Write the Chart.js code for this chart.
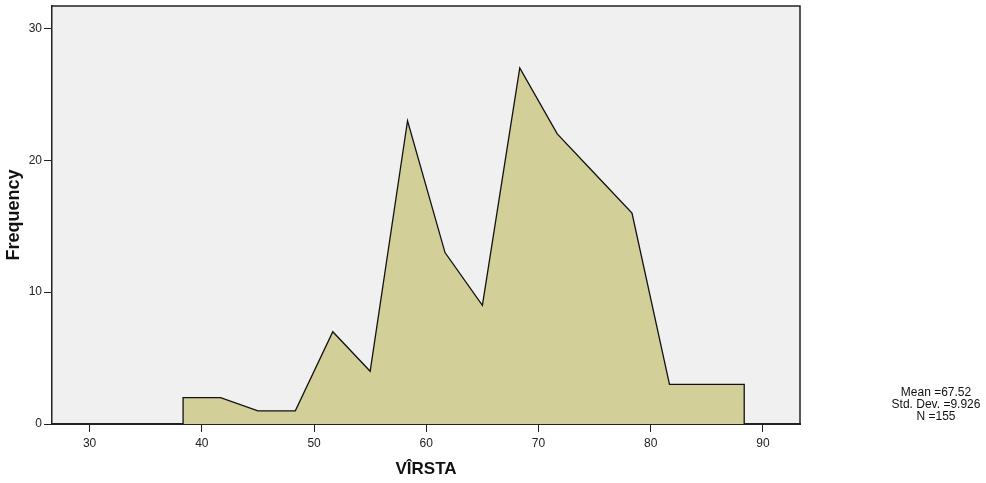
<!DOCTYPE html>
<html>
<head>
<meta charset="utf-8">
<script src="https://cdn.jsdelivr.net/npm/chart.js@4"></script>
<style>
    body { margin: 0; background: #fff; }
    #wrap { width: 986px; height: 483px; position: relative; }
</style>
</head>
<body>
<div id="wrap"><canvas id="graficoVirsta" width="986" height="483"></canvas></div>
<script>
// bin midpoints (age) and frequency per bin
const varstaMijloc = [38.33, 41.67, 45, 48.33, 51.67, 55, 58.33, 61.67, 65, 68.33, 71.67, 75, 78.33, 81.67, 85, 88.33];
const frecvente = [2, 2, 1, 1, 7, 4, 23, 13, 9, 27, 22, 19, 16, 3, 3, 3];
const xTicks = [30, 40, 50, 60, 70, 80, 90];
const yTicks = [0, 10, 20, 30];
const statistici = ['Mean =67.52', 'Std. Dev. =9.926', 'N =155'];

const fontFam = 'Arial, "Liberation Sans", sans-serif';

// polygon closes down to zero at both ends
const puncte = varstaMijloc.map((v, i) => ({ x: v, y: frecvente[i] }));
puncte.unshift({ x: varstaMijloc[0], y: 0 });
puncte.push({ x: varstaMijloc[varstaMijloc.length - 1], y: 0 });

const fundalPlot = {
    id: 'fundalPlot',
    beforeDraw(chart) {
        const { ctx, chartArea: a } = chart;
        ctx.save();
        ctx.fillStyle = '#f0f0f0';
        ctx.fillRect(a.left, a.top, a.right - a.left, a.bottom - a.top);
        ctx.restore();
    },
    afterDraw(chart) {
        const { ctx, chartArea: a } = chart;
        ctx.save();
        // top and right frame lines
        ctx.strokeStyle = '#222';
        ctx.lineWidth = 1.5;
        ctx.beginPath();
        ctx.moveTo(a.left, a.top);
        ctx.lineTo(a.right, a.top);
        ctx.lineTo(a.right, a.bottom);
        ctx.stroke();

        // stats box text
        ctx.fillStyle = '#111';
        ctx.font = '12px ' + fontFam;
        ctx.textAlign = 'center';
        ctx.textBaseline = 'middle';
        statistici.forEach((t, i) => {
            ctx.fillText(t, 936, 393 + i * 12);
        });
        ctx.restore();
    }
};

const ctx = document.getElementById('graficoVirsta').getContext('2d');
const grafic = new Chart(ctx, {
    type: 'line',
    data: {
        datasets: [{
            data: puncte,
            fill: 'origin',
            backgroundColor: '#d3cf99',
            borderColor: '#111',
            borderWidth: 1.3,
            pointRadius: 0,
            tension: 0
        }]
    },
    options: {
        responsive: false,
        devicePixelRatio: 1,
        animation: false,
        layout: { padding: { left: 0, top: 6, right: 186, bottom: 0 } },
        plugins: {
            legend: { display: false },
            tooltip: { enabled: false }
        },
        scales: {
            x: {
                type: 'linear',
                min: 26.65,
                max: 93.3,
                afterBuildTicks: scale => { scale.ticks = xTicks.map(v => ({ value: v })); },
                afterFit: scale => {
                    scale.height = 59;
                    scale.paddingLeft = 0;
                    scale.paddingRight = 0;
                },
                grid: { drawOnChartArea: false, tickLength: 8, tickColor: '#222', tickWidth: 1 },
                border: { display: true, color: '#222', width: 2 },
                ticks: { color: '#222', font: { family: fontFam, size: 12 }, padding: 4, maxRotation: 0 },
                title: {
                    display: true,
                    text: 'VÎRSTA',
                    color: '#111',
                    font: { family: fontFam, size: 17, weight: 'bold' },
                    padding: { bottom: 3 }
                }
            },
            y: {
                min: 0,
                max: 31.7,
                afterBuildTicks: scale => { scale.ticks = yTicks.map(v => ({ value: v })); },
                afterFit: scale => {
                    scale.width = 52;
                    scale.paddingTop = 0;
                    scale.paddingBottom = 0;
                },
                grid: { drawOnChartArea: false, tickLength: 8, tickColor: '#222', tickWidth: 1 },
                border: { display: true, color: '#222', width: 1.5 },
                ticks: { color: '#222', font: { family: fontFam, size: 12 }, padding: 2 },
                title: {
                    display: true,
                    text: 'Frequency',
                    color: '#111',
                    font: { family: fontFam, size: 18, weight: 'bold' },
                    padding: { top: 3 }
                }
            }
        }
    },
    plugins: [fundalPlot]
});
</script>
</body>
</html>
